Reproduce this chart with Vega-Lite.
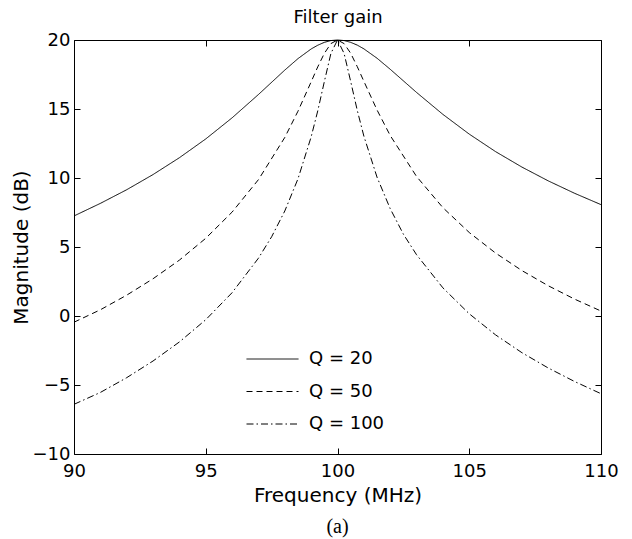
{
  "$schema": "https://vega.github.io/schema/vega-lite/v6.json",
  "width": 527,
  "height": 414,
  "autosize": {"type": "none"},
  "padding": {"left": 74, "top": 40, "right": 31, "bottom": 85},
  "title": {"text": "(a)", "orient": "bottom", "font": "Liberation Serif", "fontSize": 20, "fontWeight": "normal", "color": "black", "anchor": "middle", "offset": 12},
  "config": {
    "view": {"stroke": "black", "strokeWidth": 1},
    "font": "DejaVu Sans",
    "axis": {"grid": false, "domain": false, "zindex": 1, "ticks": true, "tickColor": "black", "tickWidth": 1, "labelColor": "black", "titleColor": "black", "labelFontSize": 18, "titleFontSize": 20, "titleFontWeight": "normal", "labelFont": "DejaVu Sans", "titleFont": "DejaVu Sans", "labelFlush": false}
  },
  "data": {"values": [
    {"f": 90, "g": 7.25, "s": "Q = 20"}, {"f": 91, "g": 8.16, "s": "Q = 20"}, {"f": 92, "g": 9.15, "s": "Q = 20"}, {"f": 93, "g": 10.25, "s": "Q = 20"}, {"f": 94, "g": 11.47, "s": "Q = 20"}, {"f": 95, "g": 12.83, "s": "Q = 20"}, {"f": 96, "g": 14.36, "s": "Q = 20"}, {"f": 97, "g": 16.05, "s": "Q = 20"}, {"f": 98, "g": 17.82, "s": "Q = 20"}, {"f": 98.5, "g": 18.65, "s": "Q = 20"}, {"f": 99, "g": 19.35, "s": "Q = 20"}, {"f": 99.25, "g": 19.62, "s": "Q = 20"}, {"f": 99.5, "g": 19.83, "s": "Q = 20"}, {"f": 99.75, "g": 19.96, "s": "Q = 20"}, {"f": 100, "g": 20, "s": "Q = 20"}, {"f": 100.25, "g": 19.96, "s": "Q = 20"}, {"f": 100.5, "g": 19.83, "s": "Q = 20"}, {"f": 100.75, "g": 19.63, "s": "Q = 20"}, {"f": 101, "g": 19.36, "s": "Q = 20"}, {"f": 101.5, "g": 18.68, "s": "Q = 20"}, {"f": 102, "g": 17.88, "s": "Q = 20"}, {"f": 103, "g": 16.2, "s": "Q = 20"}, {"f": 104, "g": 14.61, "s": "Q = 20"}, {"f": 105, "g": 13.18, "s": "Q = 20"}, {"f": 106, "g": 11.91, "s": "Q = 20"}, {"f": 107, "g": 10.79, "s": "Q = 20"}, {"f": 108, "g": 9.79, "s": "Q = 20"}, {"f": 109, "g": 8.89, "s": "Q = 20"}, {"f": 110, "g": 8.07, "s": "Q = 20"},
    {"f": 90, "g": -0.45, "s": "Q = 50"}, {"f": 91, "g": 0.45, "s": "Q = 50"}, {"f": 92, "g": 1.51, "s": "Q = 50"}, {"f": 93, "g": 2.7, "s": "Q = 50"}, {"f": 94, "g": 4.05, "s": "Q = 50"}, {"f": 95, "g": 5.63, "s": "Q = 50"}, {"f": 96, "g": 7.53, "s": "Q = 50"}, {"f": 97, "g": 9.88, "s": "Q = 50"}, {"f": 98, "g": 12.94, "s": "Q = 50"}, {"f": 98.5, "g": 14.84, "s": "Q = 50"}, {"f": 99, "g": 16.97, "s": "Q = 50"}, {"f": 99.25, "g": 18.05, "s": "Q = 50"}, {"f": 99.5, "g": 19.03, "s": "Q = 50"}, {"f": 99.75, "g": 19.74, "s": "Q = 50"}, {"f": 100, "g": 20, "s": "Q = 50"}, {"f": 100.25, "g": 19.74, "s": "Q = 50"}, {"f": 100.5, "g": 19.04, "s": "Q = 50"}, {"f": 100.75, "g": 18.07, "s": "Q = 50"}, {"f": 101, "g": 17.01, "s": "Q = 50"}, {"f": 101.5, "g": 14.93, "s": "Q = 50"}, {"f": 102, "g": 13.08, "s": "Q = 50"}, {"f": 103, "g": 10.11, "s": "Q = 50"}, {"f": 104, "g": 7.85, "s": "Q = 50"}, {"f": 105, "g": 6.05, "s": "Q = 50"}, {"f": 106, "g": 4.56, "s": "Q = 50"}, {"f": 107, "g": 3.29, "s": "Q = 50"}, {"f": 108, "g": 2.19, "s": "Q = 50"}, {"f": 109, "g": 1.22, "s": "Q = 50"}, {"f": 110, "g": 0.36, "s": "Q = 50"},
    {"f": 90, "g": -6.4, "s": "Q = 100"}, {"f": 91, "g": -5.54, "s": "Q = 100"}, {"f": 92, "g": -4.47, "s": "Q = 100"}, {"f": 93, "g": -3.26, "s": "Q = 100"}, {"f": 94, "g": -1.88, "s": "Q = 100"}, {"f": 95, "g": -0.27, "s": "Q = 100"}, {"f": 96, "g": 1.69, "s": "Q = 100"}, {"f": 97, "g": 4.19, "s": "Q = 100"}, {"f": 97.5, "g": 5.74, "s": "Q = 100"}, {"f": 98, "g": 7.61, "s": "Q = 100"}, {"f": 98.5, "g": 9.94, "s": "Q = 100"}, {"f": 99, "g": 12.98, "s": "Q = 100"}, {"f": 99.25, "g": 14.86, "s": "Q = 100"}, {"f": 99.5, "g": 16.98, "s": "Q = 100"}, {"f": 99.75, "g": 19.03, "s": "Q = 100"}, {"f": 100, "g": 20, "s": "Q = 100"}, {"f": 100.25, "g": 19.03, "s": "Q = 100"}, {"f": 100.5, "g": 17.0, "s": "Q = 100"}, {"f": 100.75, "g": 14.9, "s": "Q = 100"}, {"f": 101, "g": 13.04, "s": "Q = 100"}, {"f": 101.5, "g": 10.06, "s": "Q = 100"}, {"f": 102, "g": 7.78, "s": "Q = 100"}, {"f": 102.5, "g": 5.93, "s": "Q = 100"}, {"f": 103, "g": 4.44, "s": "Q = 100"}, {"f": 104, "g": 2.04, "s": "Q = 100"}, {"f": 105, "g": 0.16, "s": "Q = 100"}, {"f": 106, "g": -1.37, "s": "Q = 100"}, {"f": 107, "g": -2.66, "s": "Q = 100"}, {"f": 108, "g": -3.77, "s": "Q = 100"}, {"f": 109, "g": -4.75, "s": "Q = 100"}, {"f": 110, "g": -5.63, "s": "Q = 100"}
  ]},
  "layer": [
    {
      "mark": {"type": "line", "color": "black", "strokeWidth": 1},
      "encoding": {
        "x": {"field": "f", "type": "quantitative", "scale": {"domain": [90, 110], "nice": false, "zero": false}, "axis": {"values": [90, 95, 100, 105, 110], "tickSize": -6, "title": "Frequency (MHz)", "labelPadding": 14, "titlePadding": 5}},
        "y": {"field": "g", "type": "quantitative", "scale": {"domain": [-10, 20], "nice": false, "zero": false}, "axis": {"values": [-10, -5, 0, 5, 10, 15, 20], "tickSize": -6, "title": "Magnitude (dB)", "labelPadding": 10, "titlePadding": 1}},
        "strokeDash": {"field": "s", "type": "nominal", "scale": {"domain": ["Q = 20", "Q = 50", "Q = 100"], "range": [[1, 0], [6, 4], [7, 3, 1.5, 3]]},
          "legend": {"orient": "none", "legendX": 172, "legendY": 309, "title": null, "symbolType": "stroke", "symbolSize": 2704, "symbolStrokeColor": "black", "symbolStrokeWidth": 1, "labelFontSize": 18, "labelFont": "DejaVu Sans", "labelColor": "black", "clipHeight": 20, "rowPadding": 12.5, "labelOffset": 10, "padding": 0}}
      }
    },
    {
      "mark": {"type": "point", "opacity": 0},
      "encoding": {
        "x": {"field": "f", "type": "quantitative", "axis": {"orient": "top", "values": [90, 95, 100, 105, 110], "tickSize": -6, "labels": false, "title": "Filter gain", "titleFontSize": 18, "titlePadding": 13}},
        "y": {"field": "g", "type": "quantitative", "axis": {"orient": "right", "values": [-10, -5, 0, 5, 10, 15, 20], "tickSize": -6, "labels": false, "title": null}}
      }
    }
  ],
  "resolve": {"axis": {"x": "independent", "y": "independent"}}
}
